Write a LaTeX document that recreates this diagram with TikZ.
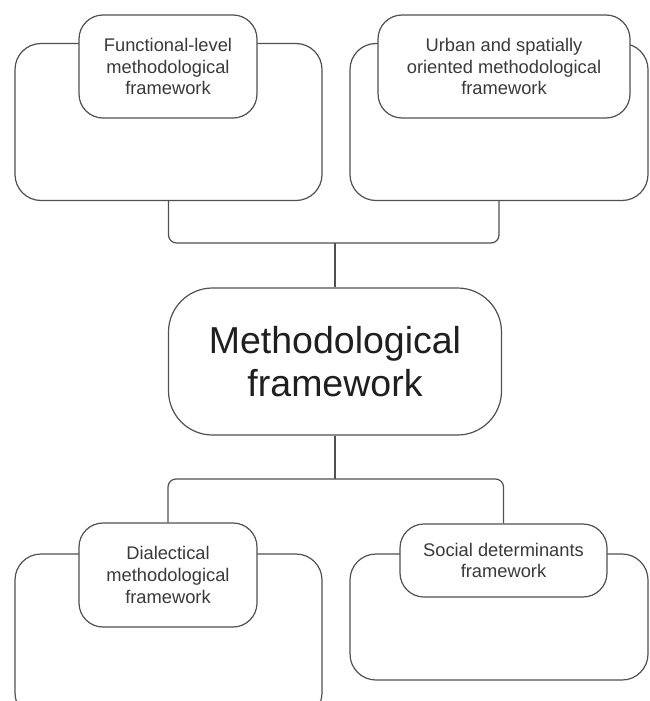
\documentclass[tikz,border=0pt]{standalone}
\usepackage{fontspec}
\setmainfont{Liberation Sans}
\definecolor{linegray}{HTML}{505050}
\definecolor{textgray}{HTML}{3A3A3A}
\begin{document}
\begin{tikzpicture}[x=1pt,y=-1pt,
		bigbox/.style={draw=linegray,line width=1.2pt,rounded corners=26pt,fill=white,inner sep=0pt},
		tagbox/.style={draw=linegray,line width=1.2pt,rounded corners=24pt,fill=white,align=center,
			text=textgray,inner sep=0pt,font=\fontsize{18.3}{21.7}\selectfont},
		mainbox/.style={draw=linegray,line width=1.2pt,rounded corners=44pt,fill=white,align=center,
			text=black!88,inner sep=0pt,font=\fontsize{37.5}{43}\selectfont},
		conn/.style={draw=linegray,line width=1.2pt,rounded corners=8pt}]
	\useasboundingbox (0,0) rectangle (649,701);
	% outer frames
	\node[bigbox,minimum width=307pt,minimum height=157pt] (b1) at (168.5,122) {};
	\node[bigbox,minimum width=298pt,minimum height=157pt] (b2) at (499,122) {};
	\node[bigbox,minimum width=307pt,minimum height=165pt] (b3) at (168.5,636.5) {};
	\node[bigbox,minimum width=298pt,minimum height=126pt] (b4) at (499,617) {};
	% titles
	\node[tagbox,minimum width=178pt,minimum height=103pt] (t1) at (168,66.5)
		{Functional-level\\methodological\\framework};
	\node[tagbox,minimum width=252pt,minimum height=103pt] (t2) at (504,66.5)
		{Urban and spatially\\oriented methodological\\framework};
	\node[tagbox,minimum width=178pt,minimum height=104pt] (t3) at (168,575)
		{Dialectical\\methodological\\framework};
	\node[tagbox,minimum width=207pt,minimum height=73pt] (t4) at (503.5,560.5)
		{Social determinants\\framework};
	\node[mainbox,minimum width=333pt,minimum height=147pt] (main) at (335,361.5)
		{Methodological\\framework};
	% links
	\coordinate (jt) at (main.north |- 0,243);
	\coordinate (jb) at (main.south |- 0,479);
	\draw[conn] (b1.south) |- (jt) -| (b2.south);
	\draw[conn] (jt) -- (main.north);
	\draw[conn] (main.south) -- (jb);
	\draw[conn] (t3.north) |- (jb) -| (t4.north);
\end{tikzpicture}
\end{document}
